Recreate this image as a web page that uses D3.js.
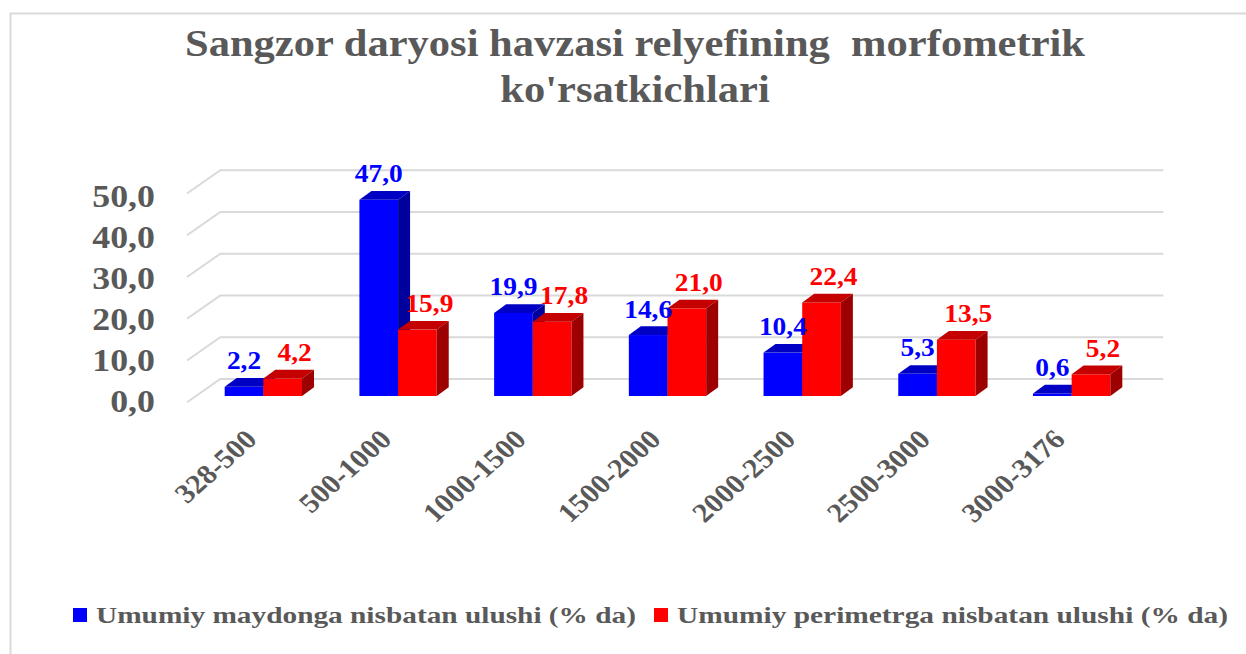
<!DOCTYPE html>
<html>
<head>
<meta charset="utf-8">
<script src="https://cdn.jsdelivr.net/npm/d3@7"></script>
<style>
  html, body { margin: 0; padding: 0; background: #fff; }
  svg { display: block; font-family: "Liberation Serif", "Times New Roman", serif; font-weight: bold; }
</style>
</head>
<body>
<div id="chart"></div>
<script>
// data
const titleLines = ["Sangzor daryosi havzasi relyefining  morfometrik", "ko'rsatkichlari"];
const categories = ["328-500", "500-1000", "1000-1500", "1500-2000", "2000-2500", "2500-3000", "3000-3176"];
const areaShare = [2.2, 47.0, 19.9, 14.6, 10.4, 5.3, 0.6];
const perimeterShare = [4.2, 15.9, 17.8, 21.0, 22.4, 13.5, 5.2];
const seriesNames = ["Umumiy maydonga nisbatan ulushi (% da)", "Umumiy perimetrga nisbatan ulushi (% da)"];
const yTicks = [0, 10, 20, 30, 40, 50];

const W = 1246, H = 654;
const sx = 1.12; // text is a bit wider than tall in the original
const fmt = v => d3.format(".1f")(v).replace(".", ",");

const series = [
  {name: seriesNames[0], values: areaShare, front: "#0000ff", top: "#0000c4", side: "#00009c", label: "#0000ff", labelDx: 0},
  {name: seriesNames[1], values: perimeterShare, front: "#ff0000", top: "#c40000", side: "#9c0000", label: "#ff0000", labelDx: 12}
];

const svg = d3.select("#chart").append("svg")
  .attr("width", W)
  .attr("height", H);

svg.append("rect").attr("width", W).attr("height", H).attr("fill", "#fff");
// chart border (only top & left are inside the crop)
svg.append("rect")
  .attr("x", 10.5).attr("y", 13.5)
  .attr("width", 1400).attr("height", 800)
  .attr("fill", "none").attr("stroke", "#d9d9d9").attr("stroke-width", 2);

// title
svg.append("g").selectAll("text")
  .data(titleLines)
  .join("text")
  .attr("transform", (d, i) => `translate(635,${56 + i * 46}) scale(${sx},1)`)
  .attr("text-anchor", "middle")
  .attr("font-size", 38)
  .attr("fill", "#595959")
  .style("white-space", "pre")
  .text(d => d);

// scales (bar plane)
const x = d3.scaleBand()
  .domain(categories)
  .range([196, 1139])
  .paddingInner(0.426)
  .paddingOuter(0.213);

const xs = d3.scaleBand()
  .domain([0, 1])
  .range([0, x.bandwidth()]);

const y = d3.scaleLinear()
  .domain([0, 50])
  .range([396, 187.25]);

const yLabel = d3.scaleLinear()
  .domain([0, 50])
  .range([411.5, 206.5]);

// 3d offsets
const back = {dx: 24.3, dy: -17};   // bar plane -> back wall
const front = {dx: -9, dy: 6.3};    // bar plane -> front edge
const depth = {dx: 12, dy: -8.7};   // bar thickness

const x0 = x.range()[0], x1 = x.range()[1];

// gridlines: back wall + left side wall
const grid = svg.append("g").attr("stroke", "#d9d9d9").attr("stroke-width", 2).attr("fill", "none");
grid.selectAll("path")
  .data(yTicks)
  .join("path")
  .attr("d", v => {
    const yb = y(v) + back.dy, yf = y(v) + front.dy;
    return `M${x0 + front.dx},${yf}L${x0 + back.dx},${yb}L${x1 + back.dx},${yb}`;
  });

// y axis labels
svg.append("g").selectAll("text")
  .data(yTicks)
  .join("text")
  .attr("transform", v => `translate(155,${yLabel(v)}) scale(${sx},1)`)
  .attr("text-anchor", "end")
  .attr("font-size", 32)
  .attr("fill", "#595959")
  .text(fmt);

// bars
const bars = svg.append("g");
categories.forEach((c, i) => {
  series.forEach((s, j) => {
    const v = s.values[i];
    const bx = x(c) + xs(j), bw = xs.bandwidth();
    const yt = y(v), y0 = y(0);
    const g = bars.append("g");
    g.append("rect")
      .attr("x", bx).attr("y", yt)
      .attr("width", bw).attr("height", y0 - yt)
      .attr("fill", s.front);
    g.append("path")
      .attr("d", `M${bx},${yt}L${bx + depth.dx},${yt + depth.dy}L${bx + bw + depth.dx},${yt + depth.dy}L${bx + bw},${yt}Z`)
      .attr("fill", s.top);
    g.append("path")
      .attr("d", `M${bx + bw},${yt}L${bx + bw + depth.dx},${yt + depth.dy}L${bx + bw + depth.dx},${y0 + depth.dy}L${bx + bw},${y0}Z`)
      .attr("fill", s.side);
  });
});

// data labels
const labels = svg.append("g");
series.forEach((s, j) => {
  labels.selectAll(null)
    .data(s.values)
    .join("text")
    .attr("transform", (v, i) => `translate(${x(categories[i]) + xs(j) + xs.bandwidth() / 2 + s.labelDx},${y(v) - 17.5}) scale(${sx},1)`)
    .attr("text-anchor", "middle")
    .attr("font-size", 24.5)
    .attr("fill", s.label)
    .text(fmt);
});

// x axis labels
svg.append("g").selectAll("text")
  .data(categories)
  .join("text")
  .attr("transform", c => `translate(${x(c) + x.bandwidth() / 2 - 5},441) scale(${sx},1) rotate(-45)`)
  .attr("text-anchor", "end")
  .attr("font-size", 27)
  .attr("fill", "#595959")
  .text(c => c);

// legend
const legendItems = [
  {sq: 73, tx: 96, len: 540},
  {sq: 654, tx: 677, len: 551}
];
const legend = svg.append("g");
series.forEach((s, j) => {
  const it = legendItems[j];
  legend.append("rect")
    .attr("x", it.sq).attr("y", 608)
    .attr("width", 14).attr("height", 14)
    .attr("fill", s.front);
  legend.append("text")
    .attr("x", it.tx).attr("y", 622.5)
    .attr("font-size", 24)
    .attr("fill", "#595959")
    .attr("textLength", it.len)
    .attr("lengthAdjust", "spacingAndGlyphs")
    .text(s.name);
});
</script>
</body>
</html>
